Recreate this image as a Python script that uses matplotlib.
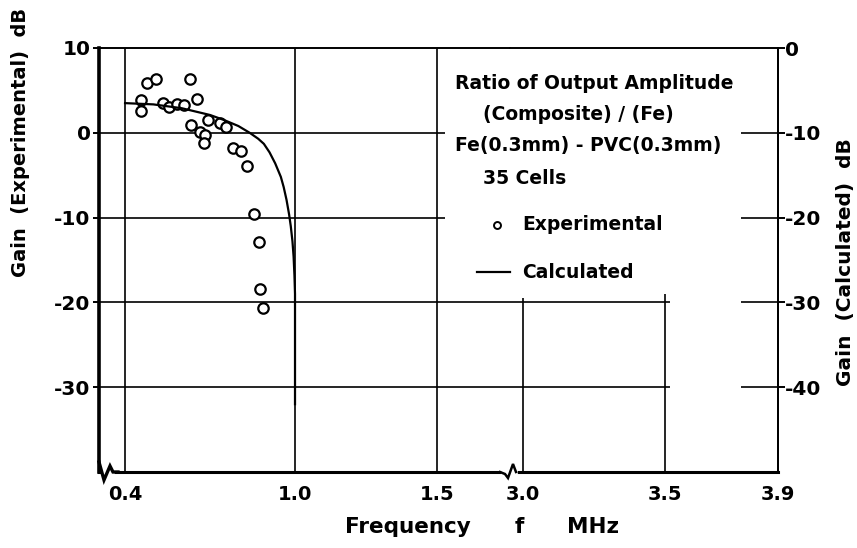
import numpy as np
import matplotlib
matplotlib.use("Agg")
import matplotlib.pyplot as plt
from matplotlib.lines import Line2D

plt.rcParams['font.family'] = ['DejaVu Sans']
plt.rcParams['font.weight'] = 'bold'
plt.rcParams['axes.unicode_minus'] = False

# --------------------------------------------------
# data
# --------------------------------------------------

# experimental points (left axis, dB)
exp_f = [0.455, 0.455, 0.476, 0.508, 0.533, 0.554, 0.584, 0.609, 0.629, 0.633,
         0.655, 0.665, 0.682, 0.680, 0.694, 0.735, 0.755, 0.780, 0.810, 0.830,
         0.855, 0.873, 0.878, 0.886]
exp_gain = [3.85, 2.6, 5.9, 6.3, 3.5, 3.0, 3.4, 3.25, 6.4, 0.9,
            4.0, 0.1, -0.3, -1.2, 1.5, 1.1, 0.7, -1.75, -2.15, -3.9,
            -9.6, -12.9, -18.4, -20.7]

# calculated curve (right axis, dB)
calc_f = [0.40, 0.50, 0.60, 0.70, 0.75, 0.80, 0.84, 0.87, 0.89, 0.91,
          0.93, 0.95, 0.96, 0.97, 0.979, 0.985, 0.991, 0.995, 0.998, 1.0, 1.0]
calc_gain = [-6.5, -6.65, -7.1, -7.9, -8.5, -9.2, -10.0, -10.7, -11.3, -12.3,
             -13.6, -15.2, -16.4, -17.9, -19.6, -21.0, -22.8, -24.6, -26.8, -29.0, -42.0]

left_ticks = [10, 0, -10, -20, -30]
right_ticks = [0, -10, -20, -30, -40]
x_ticks_lo = [0.4, 1.0, 1.5]
x_ticks_hi = [3.0, 3.5, 3.9]
x_labels_lo = ["0.4", "1.0", "1.5"]
x_labels_hi = ["3.0", "3.5", "3.9"]

# --------------------------------------------------
# figure / axes (pixel layout of the scan)
# --------------------------------------------------

W, H = 857, 548
fig = plt.figure(figsize=(W / 100, H / 100), dpi=100)


def fx(x):
    return x / W


def fy(y):
    return 1 - y / H


x_left, x_break, x_right = 99, 510, 778
y_top, y_bot = 48, 472

ax1 = fig.add_axes([fx(x_left), fy(y_bot), fx(x_break - x_left), (y_bot - y_top) / H])
ax2 = fig.add_axes([fx(x_break), fy(y_bot), fx(x_right - x_break), (y_bot - y_top) / H])

ax1.set_xlim(0.308, 1.759)
ax2.set_xlim(2.954, 3.9)
for ax in (ax1, ax2):
    ax.set_ylim(-40, 10)
    ax.tick_params(axis='x', length=0, pad=9, labelsize=14)

ax1.spines['right'].set_visible(False)
ax2.spines['left'].set_visible(False)
ax1.spines['left'].set_linewidth(2.6)
ax1.spines['bottom'].set_linewidth(2.2)
ax2.spines['bottom'].set_linewidth(2.2)
ax1.spines['top'].set_linewidth(1.4)
ax2.spines['top'].set_linewidth(1.4)
ax2.spines['right'].set_linewidth(1.4)

ax1.set_xticks(x_ticks_lo, x_labels_lo)
ax2.set_xticks(x_ticks_hi, x_labels_hi)
ax1.set_yticks(left_ticks)
ax1.tick_params(axis='y', direction='out', length=4, width=1.4, labelsize=14.5, pad=2)
ax2.set_yticks([])

# right axis for the calculated curve
ax1c = ax1.twinx()
ax1c.set_ylim(-50, 0)
ax1c.axis('off')
ax2c = ax2.twinx()
ax2c.set_ylim(-50, 0)
ax2c.set_xlim(2.954, 3.9)
for s in ('left', 'top', 'bottom'):
    ax2c.spines[s].set_visible(False)
ax2c.spines['right'].set_linewidth(1.4)
ax2c.set_yticks(right_ticks)
ax2c.set_yticklabels(["0", "-10", "-20", "-30", "-40"])
ax2c.tick_params(axis='y', direction='out', length=5, width=1.4, labelsize=14.5, pad=0)

# --------------------------------------------------
# grid segments (hand drawn look of the original)
# --------------------------------------------------

lc = dict(color='black', lw=1.2)
ax1.vlines([0.4, 1.0, 1.5], -40, 10, **lc)
ax1.hlines([0, -10], 0.308, 1.53, **lc)
ax1.hlines([-20, -30], 0.308, 1.759, **lc)
ax2.hlines([-20, -30], 2.954, 3.52, **lc)
ax2.hlines([0, -10, -20, -30], 3.77, 3.9, **lc)
ax2.vlines(3.0, -40, -19.5, **lc)
ax2.vlines(3.5, -40, -19.0, **lc)

# --------------------------------------------------
# data
# --------------------------------------------------

ax1.plot(exp_f, exp_gain, 'o', ms=7.5, mfc='white', mec='black', mew=1.6,
         zorder=5, clip_on=False)
ax1c.plot(calc_f, calc_gain, '-', color='black', lw=1.6)

# --------------------------------------------------
# break marks
# --------------------------------------------------

def zig(xs, ys, lw=1.8):
    fig.add_artist(Line2D([fx(x) for x in xs], [fy(y) for y in ys],
                          color='black', lw=lw, solid_joinstyle='miter'))

# white out under the marks first
fig.add_artist(Line2D([fx(104), fx(112)], [fy(472), fy(472)], color='white', lw=4))
fig.add_artist(Line2D([fx(504), fx(515)], [fy(472), fy(472)], color='white', lw=4))
zig([99, 104, 110, 113, 118], [462, 480, 466, 472, 472], lw=2.4)
zig([500, 505, 508, 513, 516], [472, 474, 478, 464, 472], lw=1.8)

# --------------------------------------------------
# texts
# --------------------------------------------------

fig.text(fx(21), fy(142), "Gain  (Experimental)  dB", rotation=90,
         ha='center', va='center', fontsize=14)
fig.text(fx(846), fy(262), "Gain  (Calculated)  dB", rotation=90,
         ha='center', va='center', fontsize=14.5)
fig.text(fx(345), fy(527), "Frequency", ha='left', va='center', fontsize=15.5)
fig.text(fx(519), fy(527), "f", ha='center', va='center', fontsize=15.5)
fig.text(fx(567), fy(527), "MHz", ha='left', va='center', fontsize=15.5)

tk = dict(ha='left', va='center', fontsize=13.5)
fig.text(fx(455), fy(83), "Ratio of Output Amplitude", **tk)
fig.text(fx(483), fy(115), "(Composite) / (Fe)", **tk)
fig.text(fx(455), fy(145), "Fe(0.3mm) - PVC(0.3mm)", **tk)
fig.text(fx(483), fy(178), "35 Cells", **tk)
fig.text(fx(522), fy(225), "Experimental", **tk)
fig.text(fx(522), fy(272), "Calculated", **tk)
fig.add_artist(Line2D([fx(497)], [fy(225)], marker='o', ms=5, mfc='white',
                      mec='black', mew=1.4, ls='none'))
fig.add_artist(Line2D([fx(477), fx(510)], [fy(272), fy(272)], color='black', lw=1.6))

fig.savefig("out.png", dpi=100)
